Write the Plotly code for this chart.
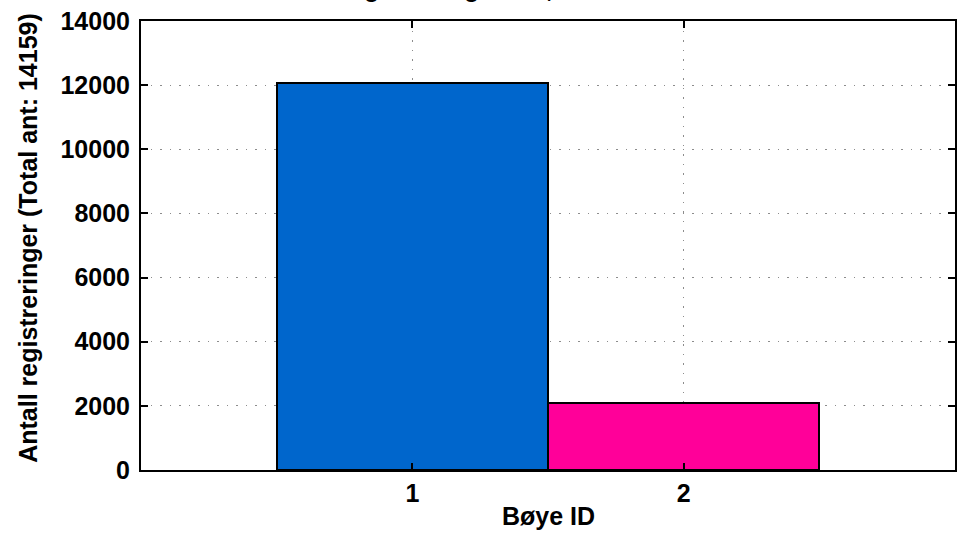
import plotly.graph_objects as go

# Data
buoy_ids = [1, 2]
counts = [12068, 2091]
bar_colors = ["#0066CC", "#FF0099"]
x_tick_labels = ["1", "2"]
y_ticks = [0, 2000, 4000, 6000, 8000, 10000, 12000, 14000]

title_text = "Antall registreringer i år, 01.01.2012 - 31.12.2012"
x_title = "Bøye ID"
y_title = "Antall registreringer (Total ant: %d)" % sum(counts)

FONT = "Liberation Sans, Arial, Helvetica, sans-serif"
FS = 25

fig = go.Figure()
fig.add_trace(go.Bar(
    x=buoy_ids,
    y=counts,
    width=1.0,
    marker=dict(color=bar_colors, line=dict(color="black", width=2)),
    showlegend=False,
))

axis_common = dict(
    showline=True, linecolor="black", linewidth=2,
    mirror="ticks", ticks="inside", ticklen=7, tickwidth=2, tickcolor="black",
    showgrid=True, gridcolor="#8c8c8c", gridwidth=1.3, griddash="1.5px,8px",
    zeroline=False,
    tickfont=dict(family=FONT, size=FS, color="black", weight="bold"),
)

fig.update_xaxes(range=[0, 3], tickvals=buoy_ids, ticktext=x_tick_labels,
                 ticklabelstandoff=0, **axis_common)
fig.update_yaxes(range=[0, 14000], tickvals=y_ticks,
                 ticktext=[str(v) for v in y_ticks],
                 ticklabelstandoff=4, **axis_common)

fig.add_annotation(text=title_text, xref="paper", yref="paper", x=0.5, y=1,
                   xanchor="center", yanchor="bottom", yshift=17, showarrow=False,
                   font=dict(family=FONT, size=FS, color="black", weight="bold"))
fig.add_annotation(text=x_title, xref="paper", yref="paper", x=0.5, y=-0.1024,
                   xanchor="center", yanchor="middle", showarrow=False,
                   font=dict(family=FONT, size=FS, color="black", weight="bold"))
fig.add_annotation(text=y_title, xref="paper", yref="paper", x=-0.139, y=0.5167,
                   xanchor="center", yanchor="middle", textangle=-90, showarrow=False,
                   font=dict(family=FONT, size=FS, color="black", weight="bold"))

fig.update_layout(
    width=958, height=546,
    margin=dict(l=141, r=1, t=21, b=76, pad=0),
    paper_bgcolor="white", plot_bgcolor="white",
    bargap=0,
)

fig.write_html("out.html", config={"displayModeBar": False},
               post_script="document.body.style.margin='0';document.body.style.overflow='hidden';")
